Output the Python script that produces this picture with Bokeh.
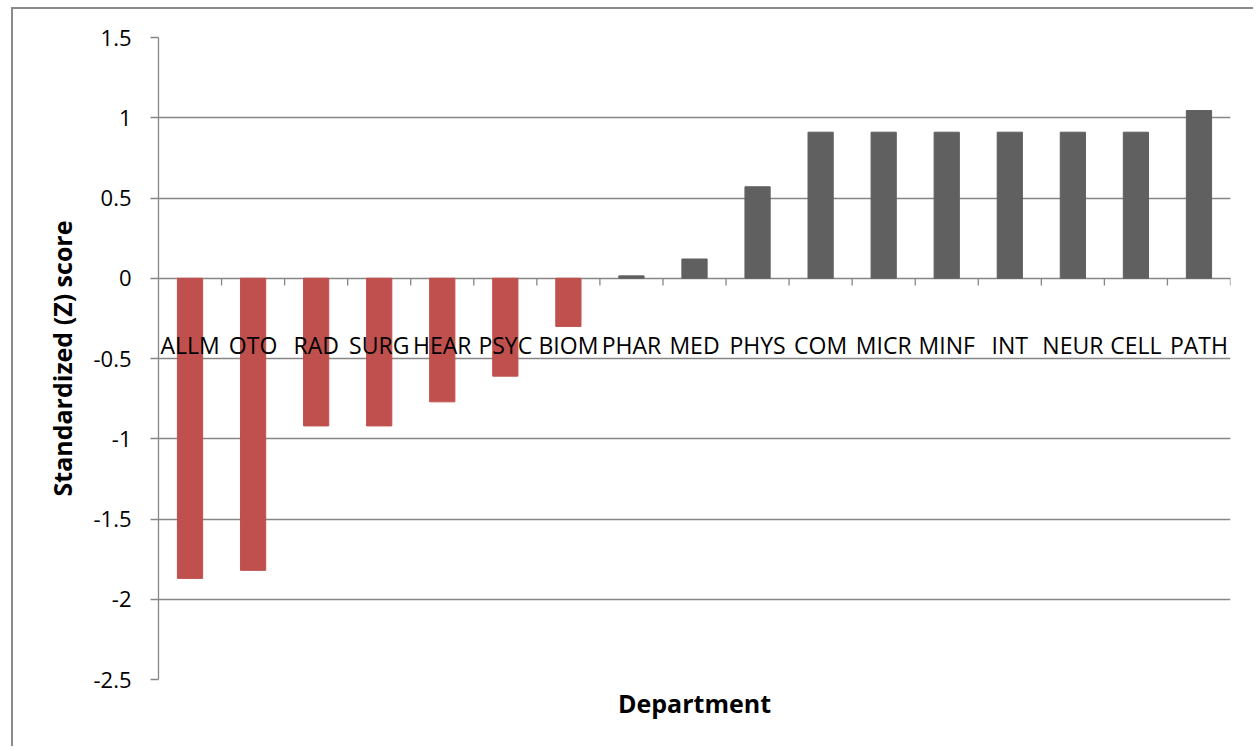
from bokeh.plotting import figure
from bokeh.models import FactorRange, Range1d, FixedTicker, ColumnDataSource, Title
from bokeh.transform import dodge
from bokeh.embed import file_html
from bokeh.resources import INLINE
from bokeh.core.properties import value

departments = ["ALLM", "OTO", "RAD", "SURG", "HEAR", "PSYC", "BIOM", "PHAR", "MED",
               "PHYS", "COM", "MICR", "MINF", "INT", "NEUR", "CELL", "PATH"]
z_scores = [-1.87, -1.82, -0.92, -0.92, -0.77, -0.61, -0.30, 0.015, 0.12,
            0.57, 0.91, 0.91, 0.91, 0.91, 0.91, 0.91, 1.045]
y_ticks = [-2.5, -2, -1.5, -1, -0.5, 0, 0.5, 1, 1.5]
y_tick_labels = ["-2.5", "-2", "-1.5", "-1", "-0.5", "0", "0.5", "1", "1.5"]

RED = "#C0504D"
GRAY = "#606060"
LINE = "#868686"
FONT = "Open Sans"

colors = [RED if z < 0 else GRAY for z in z_scores]
src = ColumnDataSource(dict(dept=departments, z=z_scores, color=colors,
                            label_y=[-0.415] * len(departments),
                            t0=[0] * len(departments), t1=[-0.045] * len(departments)))

p = figure(x_range=FactorRange(*departments), y_range=Range1d(-2.5, 1.5),
           width=1242, height=739, output_backend="svg", toolbar_location=None,
           min_border_left=145, min_border_right=25, min_border_top=28, min_border_bottom=69)
p.styles = {"border-left": "2px solid #8a8a8a", "border-top": "2px solid #8a8a8a",
            "margin-left": "11px", "margin-top": "7px"}
p.outline_line_color = None
p.background_fill_color = "white"
p.border_fill_color = "white"

p.xgrid.visible = False
p.xaxis.visible = False
p.ygrid.ticker = FixedTicker(ticks=y_ticks)
p.ygrid.grid_line_color = LINE
p.ygrid.grid_line_width = 1.3

p.vbar(x="dept", top="z", bottom=0, width=0.4, source=src,
       fill_color="color", line_color="color")

# category tick marks on the zero line
p.segment(x0=dodge("dept", 0.5, range=p.x_range), y0="t0",
          x1=dodge("dept", 0.5, range=p.x_range), y1="t1",
          source=src, line_color=LINE, line_width=1.3)

p.text(x="dept", y="label_y", text="dept", source=src,
       text_font=value(FONT), text_font_size="23px", text_color="black",
       text_align="center", text_baseline="middle")

yax = p.yaxis[0]
yax.ticker = FixedTicker(ticks=y_ticks)
yax.major_label_overrides = {float(t): l for t, l in zip(y_ticks, y_tick_labels)}
yax.major_label_text_font = FONT
yax.major_label_text_font_size = "22px"
yax.major_label_text_color = "black"
yax.major_label_standoff = 19
yax.major_tick_out = 8
yax.major_tick_in = 0
yax.minor_tick_line_color = None
yax.major_tick_line_color = LINE
yax.major_tick_line_width = 1.3
yax.axis_line_color = LINE
yax.axis_line_width = 1.3
yax.axis_label = "Standardized (Z) score"
yax.axis_label_text_font = FONT
yax.axis_label_text_font_style = "bold"
yax.axis_label_text_font_size = "25px"
yax.axis_label_text_color = "black"
yax.axis_label_standoff = 11

p.add_layout(Title(text="Department", align="center", text_font=FONT,
                   text_font_style="bold", text_font_size="25px",
                   text_color="black", standoff=8), "below")

open("out.html", "w").write(file_html(p, INLINE))
